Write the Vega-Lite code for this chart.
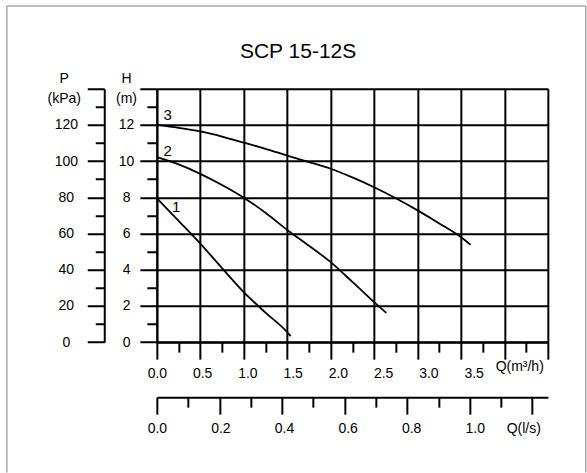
{
  "$schema": "https://vega.github.io/schema/vega-lite/v6.json",
  "width": 391.1,
  "height": 253.4,
  "autosize": {"type": "pad"},
  "padding": {"left": 5.85, "top": 4.75, "right": 0, "bottom": 0},
  "background": "white",
  "title": {
    "text": "SCP 15-12S",
    "font": "Liberation Sans",
    "fontSize": 21,
    "fontWeight": "normal",
    "color": "black",
    "anchor": "middle",
    "frame": "bounds",
    "baseline": "alphabetic",
    "offset": -73.5,
    "dx": 1.8
  },
  "config": {
    "view": {"stroke": null},
    "font": "Liberation Sans",
    "axis": {
      "domainColor": "black",
      "domainWidth": 2,
      "tickColor": "black",
      "tickWidth": 2,
      "gridColor": "black",
      "gridWidth": 2,
      "labelFont": "Liberation Sans",
      "labelFontSize": 14,
      "labelColor": "black",
      "labelOverlap": false,
      "labelFlush": false,
      "labelBound": false,
      "titleFont": "Liberation Sans",
      "titleFontSize": 14,
      "titleFontWeight": "normal",
      "titleColor": "black"
    }
  },
  "datasets": {
    "curves": [
      {"curve": "1", "Q": 0, "H": 7.95},
      {"curve": "1", "Q": 0.25, "H": 6.7},
      {"curve": "1", "Q": 0.5, "H": 5.44},
      {"curve": "1", "Q": 0.75, "H": 4.09},
      {"curve": "1", "Q": 1.0, "H": 2.76},
      {"curve": "1", "Q": 1.25, "H": 1.63},
      {"curve": "1", "Q": 1.5, "H": 0.55},
      {"curve": "1", "Q": 1.54, "H": 0.33},
      {"curve": "2", "Q": 0, "H": 10.22},
      {"curve": "2", "Q": 0.25, "H": 9.82},
      {"curve": "2", "Q": 0.5, "H": 9.3},
      {"curve": "2", "Q": 0.75, "H": 8.68},
      {"curve": "2", "Q": 1.0, "H": 7.98},
      {"curve": "2", "Q": 1.25, "H": 7.15},
      {"curve": "2", "Q": 1.5, "H": 6.2},
      {"curve": "2", "Q": 1.75, "H": 5.33},
      {"curve": "2", "Q": 2.0, "H": 4.42},
      {"curve": "2", "Q": 2.25, "H": 3.33},
      {"curve": "2", "Q": 2.5, "H": 2.21},
      {"curve": "2", "Q": 2.64, "H": 1.62},
      {"curve": "3", "Q": 0, "H": 12.0},
      {"curve": "3", "Q": 0.25, "H": 11.84},
      {"curve": "3", "Q": 0.5, "H": 11.64},
      {"curve": "3", "Q": 0.75, "H": 11.36},
      {"curve": "3", "Q": 1.0, "H": 11.02},
      {"curve": "3", "Q": 1.25, "H": 10.68},
      {"curve": "3", "Q": 1.5, "H": 10.31},
      {"curve": "3", "Q": 1.75, "H": 9.95},
      {"curve": "3", "Q": 2.0, "H": 9.58},
      {"curve": "3", "Q": 2.25, "H": 9.1},
      {"curve": "3", "Q": 2.5, "H": 8.56},
      {"curve": "3", "Q": 2.75, "H": 7.95},
      {"curve": "3", "Q": 3.0, "H": 7.28},
      {"curve": "3", "Q": 3.25, "H": 6.56},
      {"curve": "3", "Q": 3.5, "H": 5.8},
      {"curve": "3", "Q": 3.61, "H": 5.38}
    ],
    "labels": [
      {"label": "3", "Q": 0.125, "H": 12.25},
      {"label": "2", "Q": 0.125, "H": 10.31},
      {"label": "1", "Q": 0.223, "H": 7.18}
    ]
  },
  "layer": [
    {
      "data": {"values": [{}]},
      "mark": {"type": "rule", "color": "#a8a8a8", "strokeWidth": 1.5},
      "encoding": {
        "x": {"datum": -1.7259, "type": "quantitative", "scale": {"domain": [0, 4.5], "nice": false, "zero": false}, "axis": null},
        "y": {"datum": 18.5746, "type": "quantitative", "scale": {"domain": [0, 14], "nice": false}, "axis": null},
        "y2": {"datum": -7.2}
      }
    },
    {
      "data": {"values": [{}]},
      "mark": {"type": "rule", "color": "#a8a8a8", "strokeWidth": 1.5},
      "encoding": {
        "x": {"datum": -1.7259, "type": "quantitative", "scale": {"domain": [0, 4.5], "nice": false, "zero": false}, "axis": null},
        "x2": {"datum": 4.935},
        "y": {"datum": 18.5746, "type": "quantitative", "scale": {"domain": [0, 14], "nice": false}, "axis": null}
      }
    },
    {
      "data": {"values": [{}]},
      "mark": {"type": "rule", "color": "#a8a8a8", "strokeWidth": 1.5},
      "encoding": {
        "x": {"datum": 4.935, "type": "quantitative", "scale": {"domain": [0, 4.5], "nice": false, "zero": false}, "axis": null},
        "y": {"datum": 18.5746, "type": "quantitative", "scale": {"domain": [0, 14], "nice": false}, "axis": null},
        "y2": {"datum": -7.2}
      }
    },
    {
      "data": {"name": "curves"},
      "mark": {"type": "line", "color": "black", "strokeWidth": 1.8, "interpolate": "monotone"},
      "encoding": {
        "detail": {"field": "curve"},
        "x": {
          "field": "Q", "type": "quantitative",
          "scale": {"domain": [0, 4.5], "nice": false, "zero": false},
          "axis": {
            "orient": "bottom",
            "title": null,
            "values": [0, 0.25, 0.5, 0.75, 1, 1.25, 1.5, 1.75, 2, 2.25, 2.5, 2.75, 3, 3.25, 3.5, 3.75, 4, 4.25, 4.5],
            "grid": true,
            "gridOpacity": {"condition": {"test": "round(datum.value*4) % 2 === 0", "value": 1}, "value": 0},
            "tickSize": {"condition": {"test": "round(datum.value*4) % 2 === 0", "value": 17}, "value": 10},
            "labelAlign": "center",
            "labelBaseline": "alphabetic",
            "labelPadding": 18.5,
            "labelOffset": {"expr": "datum.value > 4.2 ? -7 : datum.value * 3.6"},
            "labelExpr": "datum.value > 4.2 && datum.value < 4.3 ? 'Q(m³/h)' : (datum.value < 3.6 && round(datum.value*4) % 2 === 0 ? format(datum.value, '.1f') : '')"
          }
        },
        "y": {
          "field": "H", "type": "quantitative",
          "scale": {"domain": [0, 14], "nice": false},
          "axis": {
            "orient": "left",
            "values": [0, 1, 2, 3, 4, 5, 6, 7, 8, 9, 10, 11, 12, 13, 14],
            "grid": true,
            "gridOpacity": {"condition": {"test": "datum.value % 2 === 0", "value": 1}, "value": 0},
            "tickSize": {"condition": {"test": "datum.value % 2 === 0", "value": 17}, "value": 10},
            "labelAlign": "center",
            "labelBaseline": "middle",
            "labelPadding": 13.8,
            "labelExpr": "datum.value % 2 === 0 && datum.value < 14 ? format(datum.value, 'd') : ''",
            "title": ["H", "(m)"],
            "titleAngle": 0,
            "titleAlign": "center",
            "titleBaseline": "alphabetic",
            "titleX": -30.8,
            "titleY": -6.6,
            "titleLineHeight": 20
          }
        }
      }
    },
    {
      "data": {"name": "labels"},
      "mark": {"type": "text", "color": "black", "fontSize": 15, "font": "Liberation Sans", "align": "center", "baseline": "alphabetic"},
      "encoding": {
        "text": {"field": "label"},
        "x": {
          "field": "Q", "type": "quantitative",
          "scale": {"domain": [0, 4.5], "nice": false, "zero": false},
          "axis": {
            "orient": "bottom",
            "offset": 55,
            "title": null,
            "grid": false,
            "values": [0, 0.36, 0.72, 1.08, 1.44, 1.8, 2.16, 2.52, 2.88, 3.24, 3.6, 3.96, 4.32],
            "tickSize": {"condition": {"test": "round(datum.value/0.36) % 2 === 0", "value": 17}, "value": 10},
            "labelAlign": "center",
            "labelBaseline": "alphabetic",
            "labelPadding": 18,
            "labelOffset": {"expr": "datum.value > 4.3 ? -9 : datum.value * 1.4"},
            "labelExpr": "datum.value > 4.3 ? 'Q(l/s)' : (datum.value < 3.7 && round(datum.value/0.36) % 2 === 0 ? format(datum.value/3.6, '.1f') : '')"
          }
        },
        "y": {
          "field": "H", "type": "quantitative",
          "scale": {"domain": [0, 14], "nice": false},
          "axis": {
            "orient": "left",
            "offset": 52.6,
            "grid": false,
            "values": [0, 1, 2, 3, 4, 5, 6, 7, 8, 9, 10, 11, 12, 13, 14],
            "tickSize": {"condition": {"test": "datum.value % 2 === 0", "value": 17}, "value": 9},
            "labelAlign": "center",
            "labelBaseline": "middle",
            "labelPadding": 21.4,
            "labelExpr": "datum.value % 2 === 0 && datum.value < 14 ? format(datum.value * 10, 'd') : ''",
            "title": ["P", "(kPa)"],
            "titleAngle": 0,
            "titleAlign": "center",
            "titleBaseline": "alphabetic",
            "titleX": -40.5,
            "titleY": -6.6,
            "titleLineHeight": 20
          }
        }
      }
    }
  ],
  "resolve": {"axis": {"x": "independent", "y": "independent"}}
}
